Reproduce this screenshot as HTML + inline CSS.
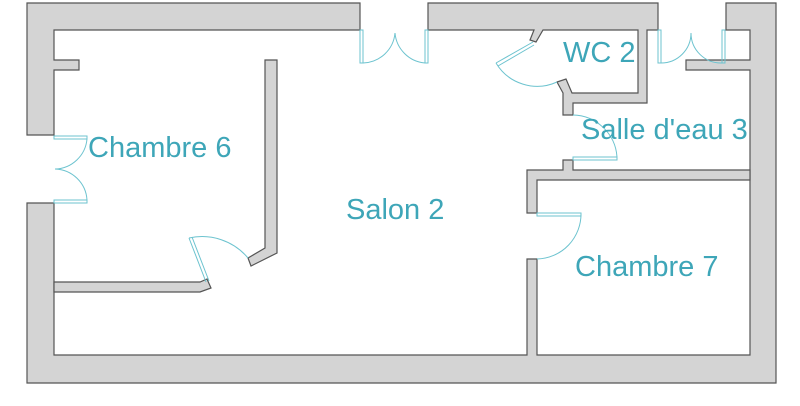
<!DOCTYPE html>
<html><head><meta charset="utf-8"><style>
html,body{margin:0;padding:0;background:#fff;width:800px;height:406px;overflow:hidden}
text{font-family:"Liberation Sans",sans-serif;font-size:29px;fill:#3ea6b8}
</style></head><body>
<svg width="800" height="406" viewBox="0 0 800 406" xmlns="http://www.w3.org/2000/svg">
<g fill="#d4d4d4" stroke="#555" stroke-width="1.2">
<path d="M27,3 H360 V30 H54 V60 H79 V70 H54 V135 H27 Z"/>
<path d="M27,203 H54 V355 H527 V259 H537 V355 H750 V70 H686 V60 H750 V30 H726 V3 H776 V383 H27 Z"/>
<path d="M428,3 H658 V30 H647 V103 H573 V115 H563 V93 L557,82 L566,79 L572,93 H638 V30 H543 L536,42 L530,40 L534,30 H428 Z"/>
<path d="M527,170 H563 V160 H573 V170 H750 V180 H537 V213 H527 Z"/>
<path d="M265,60 H277 V253 L251,266 L248,258 L265,248 V68 H265 Z"/>
<path d="M54,282 H200 L207,279 L211,288 L200,292 H54 Z"/>
</g>
<g fill="none" stroke="#6cc3cf" stroke-width="1">
<rect x="360" y="30" width="3" height="33"/><path d="M363,63 A33,33 0 0 0 395,33"/>
<rect x="425" y="30" width="3" height="33"/><path d="M425,63 A33,33 0 0 1 395,33"/>
<rect x="658" y="30" width="3" height="33"/><path d="M661,63 A30,30 0 0 0 691,33"/>
<rect x="722" y="30" width="3" height="33"/><path d="M722,63 A30,30 0 0 1 691,33"/>
<rect x="54" y="136" width="33" height="3"/><path d="M87,139 A33,33 0 0 1 55,169"/>
<rect x="54" y="200" width="33" height="3"/><path d="M87,200 A33,33 0 0 0 55,169"/>
<path d="M189,238 L206,282 M192,237 L209,281"/><path d="M189,238 A60,60 0 0 1 248,258"/>
<path d="M533,42 L496,63 M534,45 L498,66"/><path d="M496,63 A48,48 0 0 0 557,82"/>
<rect x="573" y="157" width="44" height="3"/><path d="M617,157 A45,45 0 0 0 573,115"/>
<rect x="537" y="213" width="44" height="3"/><path d="M581,213 A45,45 0 0 1 537,259"/>
</g>
<text x="88" y="157">Chambre 6</text>
<text x="346" y="219">Salon 2</text>
<text x="563" y="62">WC 2</text>
<text x="581" y="139">Salle d'eau 3</text>
<text x="575" y="276">Chambre 7</text>
</svg>
</body></html>
